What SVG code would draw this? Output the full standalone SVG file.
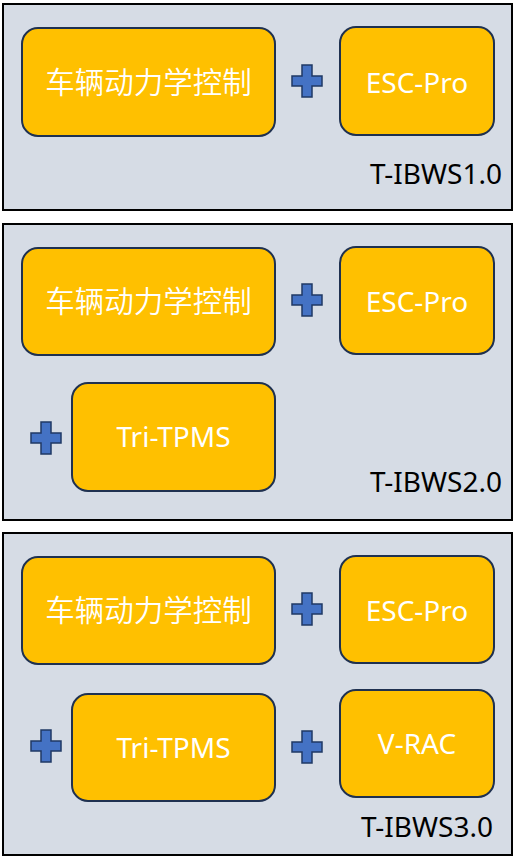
<svg xmlns="http://www.w3.org/2000/svg" xmlns:xlink="http://www.w3.org/1999/xlink" width="516" height="860" viewBox="0 0 516 860">
<style>
.panel{fill:#D6DCE5;stroke:#000;stroke-width:2}
.box{fill:#FFC000;stroke:#1F3150;stroke-width:2}
.t{fill:#fff;font-family:"Noto Sans","Noto Sans CJK SC",sans-serif;font-size:28px;text-anchor:middle}
.cjk{fill:#fff;font-family:"Noto Sans CJK SC",sans-serif;font-size:29.5px;font-weight:350;text-anchor:middle}
.lbl{fill:#000;font-family:"Noto Sans",sans-serif;font-size:28px;text-anchor:end}
.plus{fill:#4472C4;stroke:#1F3864;stroke-width:1.5}
</style>
<defs>
<path id="plus" class="plus" d="M-5,-16H5V-5H15V5H5V16H-5V5H-15V-5H-5Z"/>
</defs>
<g id="panel1">
<rect class="panel" x="3" y="4" width="509" height="206"/>
<g id="p1-vdc"><rect class="box" x="22" y="28" width="253" height="108" rx="16"/><text class="cjk" x="148.5" y="93">车辆动力学控制</text></g>
<g id="p1-esc"><rect class="box" x="340" y="27" width="154" height="108" rx="16"/><text class="t" x="417" y="93">ESC-Pro</text></g>
<g id="p1-plus1"><use xlink:href="#plus" href="#plus" transform="translate(307,81)"/></g>
<text class="lbl" x="502" y="184">T-IBWS1.0</text>
</g>
<g id="panel2">
<rect class="panel" x="3" y="224" width="509" height="296"/>
<g id="p2-vdc"><rect class="box" x="22" y="248" width="253" height="107" rx="16"/><text class="cjk" x="148.5" y="312">车辆动力学控制</text></g>
<g id="p2-esc"><rect class="box" x="340" y="247" width="154" height="107" rx="16"/><text class="t" x="417" y="312">ESC-Pro</text></g>
<g id="p2-tpms"><rect class="box" x="72" y="383" width="203" height="108" rx="16"/><text class="t" x="173.5" y="447">Tri-TPMS</text></g>
<g id="p2-plus1"><use xlink:href="#plus" href="#plus" transform="translate(307,300)"/></g>
<g id="p2-plus2"><use xlink:href="#plus" href="#plus" transform="translate(46,438)"/></g>
<text class="lbl" x="502" y="492">T-IBWS2.0</text>
</g>
<g id="panel3">
<rect class="panel" x="3" y="533" width="509" height="322"/>
<g id="p3-vdc"><rect class="box" x="22" y="557" width="253" height="107" rx="16"/><text class="cjk" x="148.5" y="621">车辆动力学控制</text></g>
<g id="p3-esc"><rect class="box" x="340" y="556" width="154" height="107" rx="16"/><text class="t" x="417" y="621">ESC-Pro</text></g>
<g id="p3-tpms"><rect class="box" x="72" y="694" width="203" height="107" rx="16"/><text class="t" x="173.5" y="758">Tri-TPMS</text></g>
<g id="p3-vrac"><rect class="box" x="340" y="690" width="154" height="107" rx="16"/><text class="t" x="417" y="754">V-RAC</text></g>
<g id="p3-plus1"><use xlink:href="#plus" href="#plus" transform="translate(307,609)"/></g>
<g id="p3-plus2"><use xlink:href="#plus" href="#plus" transform="translate(46,746)"/></g>
<g id="p3-plus3"><use xlink:href="#plus" href="#plus" transform="translate(307,747)"/></g>
<text class="lbl" x="493" y="837">T-IBWS3.0</text>
</g>
</svg>
